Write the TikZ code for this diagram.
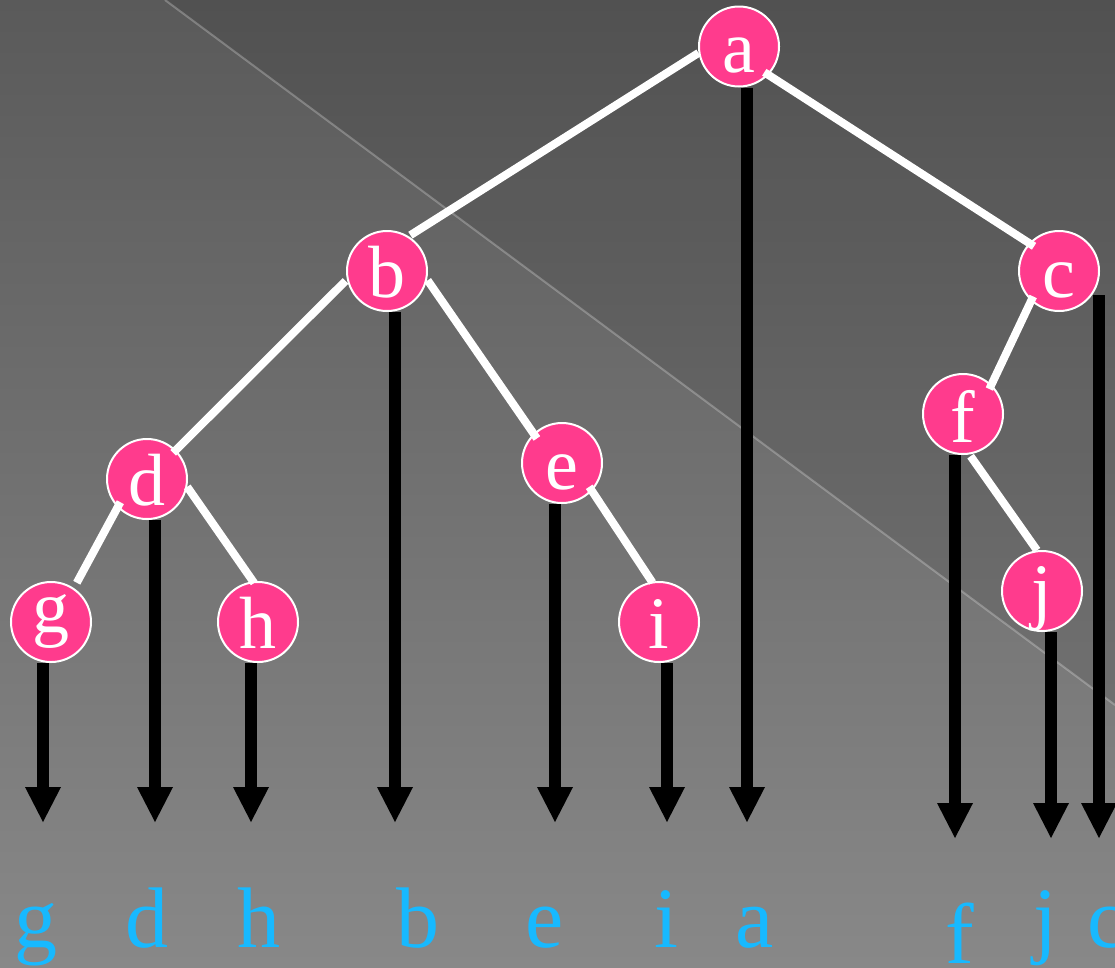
\documentclass[tikz,border=0pt]{standalone}
\usepackage{fontspec}
\setmainfont{Liberation Serif}
\usetikzlibrary{arrows.meta}
\definecolor{nodepink}{HTML}{FF3B8D}
\definecolor{leafblue}{HTML}{17B9FF}
\definecolor{bgtop}{HTML}{5A5A5A}
\definecolor{bgbot}{HTML}{888888}
% letter inside a vertex, its baseline #1 pt below the centre
\newcommand\nodetext[2][26]{\makebox[0pt]{\raisebox{-#1pt}[0pt][0pt]{#2}}}
\begin{document}
\begin{tikzpicture}[x=1pt,y=-1pt,
  vertex/.style={circle, fill=nodepink, draw=white, line width=2pt,
    minimum size=80pt, inner sep=0pt, text=white,
    font=\fontsize{74}{74}\selectfont},
  branch/.style={draw=white, line width=8pt},
  flow/.style={draw=black, line width=12pt,
    -{Triangle[width=36pt,length=35pt,line width=0pt]}},
  leaf/.style={text=leafblue, font=\fontsize{86}{86}\selectfont,
    anchor=base, inner sep=0pt}]

% backdrop
\useasboundingbox (0,0) rectangle (1115,967);
\shade[top color=bgtop, bottom color=bgbot] (0,0) rectangle (1115,967);
\fill[black, opacity=0.09] (165,0) -- (1115,0) -- (1115,705) -- cycle;
\draw[white, opacity=0.25, line width=2pt] (165,0) -- (1115,705);

% tree vertices
\node[vertex] (a) at (739,46.5) {\nodetext{a}};
\node[vertex] (b) at (387,271) {\nodetext{b}};
\node[vertex] (c) at (1059,271) {\nodetext{c}};
\node[vertex] (d) at (147,479) {\nodetext{d}};
\node[vertex] (e) at (562,463) {\nodetext{e}};
\node[vertex] (f) at (963,414) {\nodetext[28]{f}};
\node[vertex] (g) at (51,622) {\nodetext[10]{g}};
\node[vertex] (h) at (258,622) {\nodetext{h}};
\node[vertex] (i) at (659,622) {\nodetext{i}};
\node[vertex] (j) at (1042,591) {\nodetext[24]{j}};

% tree branches
\draw[branch, shorten >=2pt] (a.189) -- (b.58);
\draw[branch, shorten <=-5pt, shorten >=-6pt] (a.316) -- (c.137);
\draw[branch, shorten <=2pt, shorten >=-4pt] (b.192) -- (d.45);
\draw[branch, shorten <=1pt, shorten >=-6pt] (b.348) -- (e.134);
\draw[branch, shorten <=-6pt, shorten >=6pt] (d.224) -- (g.56);
\draw[branch, shorten >=-2pt] (d.349) -- (h.97);
\draw[branch, shorten <=-5pt, shorten >=-1pt] (e.317) -- (i.100);
\draw[branch, shorten <=-5pt, shorten >=-5pt] (c.227) -- (f.46);
\draw[branch, shorten <=2pt] (f.279) -- (j.97);

% in-order sequence
\node[leaf] (lg) at (36,947) {g};
\node[leaf] (ld) at (147,947) {d};
\node[leaf] (lh) at (259,947) {h};
\node[leaf] (lb) at (418,947) {b};
\node[leaf] (le) at (545,947) {e};
\node[leaf] (li) at (666,947) {i};
\node[leaf] (la) at (755,947) {a};
\node[leaf] (lf) at (960,963) {f};
\node[leaf] (lj) at (1045,947) {j};
\node[leaf] (lc) at (1107,947) {c};

% arrow tips above the sequence
\coordinate (tg) at (43,822);
\coordinate (td) at (155,822);
\coordinate (th) at (251,822);
\coordinate (tb) at (395,822);
\coordinate (te) at (555,822);
\coordinate (ti) at (667,822);
\coordinate (ta) at (747,822);
\coordinate (tf) at (955,838);
\coordinate (tj) at (1051,838);
\coordinate (tc) at (1099,838);

% projections down to the sequence
\draw[flow] ([xshift=-8pt]g.south) -- (tg);
\draw[flow] ([xshift=8pt]d.south) -- (td);
\draw[flow] ([xshift=-7pt]h.south) -- (th);
\draw[flow] ([xshift=8pt]b.south) -- (tb);
\draw[flow] ([xshift=-7pt]e.south) -- (te);
\draw[flow] ([xshift=8pt]i.south) -- (ti);
\draw[flow] ([xshift=8pt]a.south) -- (ta);
\draw[flow] ([xshift=-8pt]f.south) -- (tf);
\draw[flow] ([xshift=9pt]j.south) -- (tj);
\draw[flow] ([xshift=40pt,yshift=-24pt]c.center) -- (tc);
\end{tikzpicture}
\end{document}
